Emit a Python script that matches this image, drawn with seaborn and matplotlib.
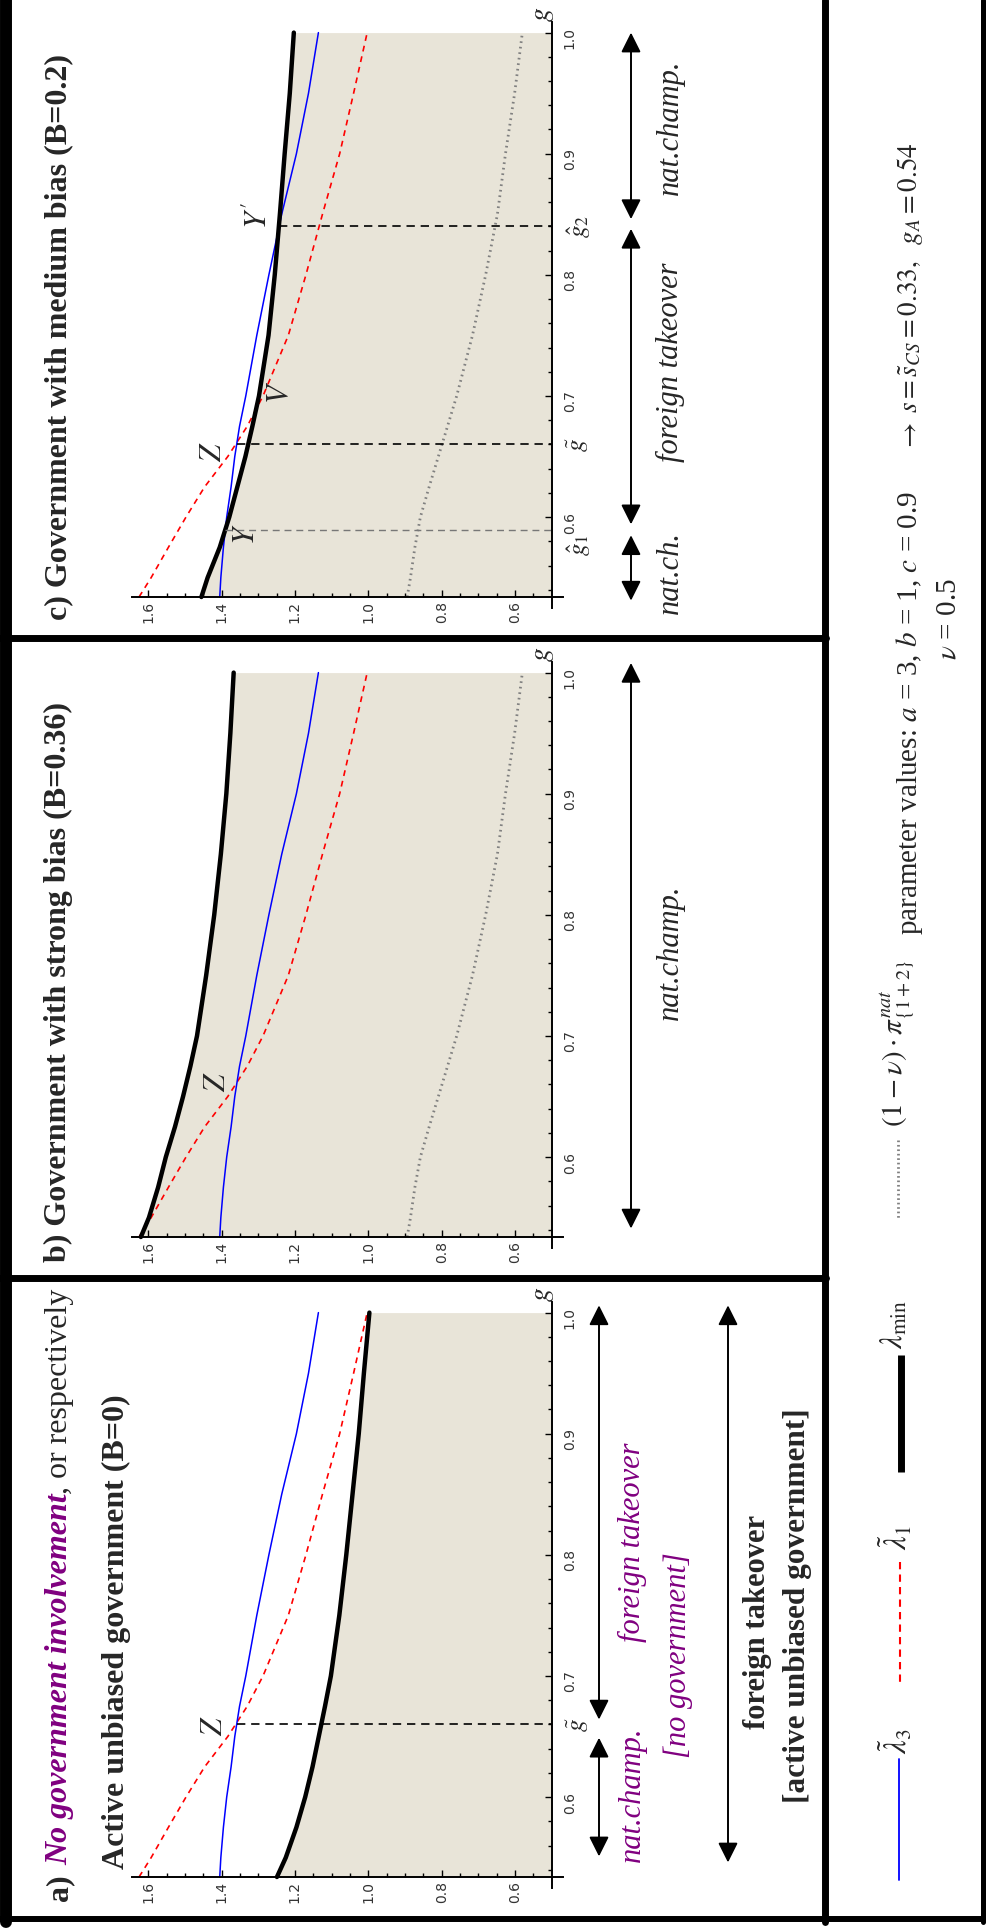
import numpy as np
import matplotlib
matplotlib.use('Agg')
import matplotlib.pyplot as plt
import seaborn as sns
from matplotlib import font_manager
from matplotlib.lines import Line2D

# values: g runs up the page, lambda runs right-to-left
G = [0.534, 0.55, 0.575, 0.6, 0.625, 0.65, 0.675, 0.7, 0.75, 0.8, 0.85, 0.9, 0.95, 1.0]
LAM3 = [1.405, 1.402, 1.395, 1.386, 1.374, 1.364, 1.351, 1.334, 1.304, 1.271, 1.236, 1.196, 1.163, 1.136]
LAM1 = [1.625, 1.592, 1.545, 1.497, 1.446, 1.383, 1.330, 1.287, 1.218, 1.170, 1.125, 1.078, 1.040, 1.003]
LMIN_A = [1.249, 1.225, 1.196, 1.172, 1.152, 1.135, 1.118, 1.102, 1.079, 1.060, 1.043, 1.026, 1.012, 0.997]
LMIN_B = [1.620, 1.598, 1.573, 1.552, 1.527, 1.505, 1.485, 1.467, 1.442, 1.420, 1.402, 1.387, 1.376, 1.367]
LMIN_C = [1.455, 1.438, 1.405, 1.379, 1.357, 1.335, 1.316, 1.298, 1.272, 1.255, 1.241, 1.228, 1.214, 1.203]
PI_NAT = [0.894, 0.885, 0.873, 0.858, 0.834, 0.809, 0.784, 0.759, 0.716, 0.680, 0.648, 0.626, 0.601, 0.580]

G_TILDE = 0.66
G_HAT1 = 0.589
G_HAT2 = 0.84

LAM_TICKS = [0.6, 0.8, 1.0, 1.2, 1.4, 1.6]
G_TICKS = [0.6, 0.7, 0.8, 0.9, 1.0]

PURPLE = '#800080'
BEIGE = '#E8E4D8'

W, H = 986, 1932

sns.set_theme(style='white')
plt.rcParams['font.family'] = ['Liberation Serif', 'DejaVu Serif']
plt.rcParams['mathtext.fontset'] = 'stix'

names = {f.name for f in font_manager.fontManager.ttflist}
if 'Liberation Sans Narrow' in names:
    TICK_FAM, TICK_SIZE = 'Liberation Sans Narrow', 13.5
else:
    TICK_FAM, TICK_SIZE = 'DejaVu Sans', 10

fig = plt.figure(figsize=(W / 100, H / 100), dpi=100)
renderer = fig.canvas.get_renderer()


def fpt(x, y):
    return x / W, 1 - y / H


def ftext(x, y, s, **kw):
    kw.setdefault('ha', 'left')
    kw.setdefault('va', 'center')
    return fig.text(*fpt(x, y), s, rotation=90, rotation_mode='anchor', **kw)


def chain(x, y0, pieces):
    # rotated title made of several styled pieces, stacked bottom to top
    y = y0
    for s, gap, kw in pieces:
        t = ftext(x, y, s, va='baseline', **kw)
        bb = t.get_window_extent(renderer)
        y = H - bb.y1 - gap


def fline(x0, y0, x1, y1, lw, **kw):
    fig.add_artist(Line2D([x0 / W, x1 / W], [1 - y0 / H, 1 - y1 / H],
                          transform=fig.transFigure, lw=lw, **kw))


# axes geometry in pixels
AX_L, AX_W, AX_H, AX_TOP = 131.7, 431.0, 586.2, 21.7


def xf(px):
    return (px - AX_L) / AX_W


def make_axes(T, lmin, show_pi):
    ax = fig.add_axes([AX_L / W, 1 - (T + AX_TOP + AX_H) / H, AX_W / W, AX_H / H])
    ax.patch.set_alpha(0)
    ax.fill_betweenx(G, lmin, 0.5, color=BEIGE, lw=0, zorder=0)
    if show_pi:
        sns.lineplot(x=PI_NAT, y=G, ax=ax, orient='y', sort=False, estimator=None,
                     color='#808080', lw=2.0, linestyle=(0, (0.6, 1.4)), legend=False, zorder=2)
    sns.lineplot(x=LAM1, y=G, ax=ax, orient='y', sort=False, estimator=None,
                 color='#ff0000', lw=1.2, linestyle=(0, (3.5, 3)), legend=False, zorder=3)
    sns.lineplot(x=LAM3, y=G, ax=ax, orient='y', sort=False, estimator=None,
                 color='#0000ff', lw=1.1, legend=False, zorder=3)
    sns.lineplot(x=lmin, y=G, ax=ax, orient='y', sort=False, estimator=None,
                 color='black', lw=3.2, legend=False, zorder=4)

    ax.set_xlim(1.645, 0.47)
    ax.set_ylim(0.525, 1.009)
    ax.set_xlabel('')
    ax.set_ylabel('')
    for s in ['top', 'left']:
        ax.spines[s].set_visible(False)
    ax.spines['right'].set_position(('data', 0.5))
    ax.spines['bottom'].set_position(('data', 0.534))
    for s in ['right', 'bottom']:
        ax.spines[s].set_linewidth(1.4)
        ax.spines[s].set_color('black')
        ax.spines[s].set_zorder(6)
    ax.xaxis.set_ticks_position('bottom')
    ax.yaxis.set_ticks_position('right')
    ax.set_xticks(LAM_TICKS)
    ax.set_xticklabels([f'{v:.1f}' for v in LAM_TICKS])
    ax.set_xticks(np.arange(0.55, 1.62, 0.05), minor=True)
    ax.set_yticks(G_TICKS)
    ax.set_yticklabels([f'{v:.1f}' for v in G_TICKS])
    ax.set_yticks(np.arange(0.54, 1.005, 0.02), minor=True)
    ax.tick_params(which='both', direction='in', color='black', width=1.0)
    ax.tick_params(which='major', length=5)
    ax.tick_params(which='minor', length=3)
    ax.tick_params(axis='both', labelsize=TICK_SIZE, labelcolor='#333333',
                   labelfontfamily=TICK_FAM)
    ax.tick_params(axis='x', labelrotation=90, pad=3)
    ax.tick_params(axis='y', labelrotation=90, pad=8)
    ax.grid(False)
    ax.text(xf(543), 1.0, '$g$', transform=ax.transAxes, fontsize=20,
            rotation=90, rotation_mode='anchor', ha='left', va='center', clip_on=False)
    return ax


def mark(ax, g, curve, color='black', lw=1.2):
    lam0 = np.interp(g, G, curve)
    ax.plot([lam0, 0.5], [g, g], color=color, lw=lw, linestyle=(0, (5, 3.5)), zorder=5)


def gtick(ax, g, s):
    ax.text(xf(565), g, s, transform=ax.get_yaxis_transform(), fontsize=18,
            rotation=90, rotation_mode='anchor', ha='center', va='top', clip_on=False)


def point_label(ax, lam, g, s):
    ax.text(lam, g, s, fontsize=22, rotation=90, rotation_mode='anchor',
            ha='center', va='center', zorder=7)


def arrow(ax, px, g0, g1):
    tr = ax.get_yaxis_transform()
    ax.annotate('', xy=(xf(px), g1), xytext=(xf(px), g0), xycoords=tr, textcoords=tr,
                annotation_clip=False,
                arrowprops=dict(arrowstyle='<|-|>,head_length=0.6,head_width=0.3',
                                lw=1.4, color='black', mutation_scale=20,
                                shrinkA=0, shrinkB=0))


def side_label(ax, px, g, s, **kw):
    ax.text(xf(px), g, s, transform=ax.get_yaxis_transform(), rotation=90,
            rotation_mode='anchor', ha='center', va='center', clip_on=False, **kw)


# ---- panel a (bottom)
ax_a = make_axes(1280, LMIN_A, False)
mark(ax_a, G_TILDE, LAM3)
point_label(ax_a, 1.419, 0.659, '$Z$')
gtick(ax_a, G_TILDE, r'$\tilde{g}$')
arrow(ax_a, 599, 0.551, 0.649)
arrow(ax_a, 599, 0.664, 1.006)
arrow(ax_a, 728, 0.546, 1.006)
side_label(ax_a, 632, 0.602, 'nat.champ.', fontsize=22, style='italic', color=PURPLE)
side_label(ax_a, 632, 0.810, 'foreign takeover', fontsize=22, style='italic', color=PURPLE)
side_label(ax_a, 678, 0.717, '[no government]', fontsize=22, style='italic', color=PURPLE)
side_label(ax_a, 758, 0.745, 'foreign takeover', fontsize=22, weight='bold')
side_label(ax_a, 798, 0.758, '[active unbiased government]', fontsize=22.5, weight='bold')

chain(67, 1901, [('a)', 9, dict(fontsize=23, weight='bold')),
                 ('No government involvement', 0, dict(fontsize=23, weight='bold',
                                                       style='italic', color=PURPLE)),
                 (', or respectively', 0, dict(fontsize=23))])
ftext(124, 1868.6, 'Active unbiased government (B=0)', va='baseline', fontsize=23, weight='bold')

# ---- panel b (middle)
ax_b = make_axes(640, LMIN_B, True)
point_label(ax_b, 1.412, 0.662, '$Z$')
arrow(ax_b, 631, 0.541, 1.008)
side_label(ax_b, 670, 0.769, 'nat.champ.', fontsize=22, style='italic')
ftext(66, 1262, 'b) Government with strong bias (B=0.36)', va='baseline', fontsize=23, weight='bold')

# ---- panel c (top)
ax_c = make_axes(0, LMIN_C, True)
mark(ax_c, G_TILDE, LAM3)
mark(ax_c, G_HAT2, LMIN_C)
mark(ax_c, G_HAT1, LMIN_C, color='#777777', lw=1.0)
point_label(ax_c, 1.423, 0.654, '$Z$')
point_label(ax_c, 1.240, 0.703, '$V$')
point_label(ax_c, 1.332, 0.586, '$Y$')
point_label(ax_c, 1.297, 0.849, "$Y'$")
gtick(ax_c, G_TILDE, r'$\tilde{g}$')
gtick(ax_c, G_HAT1 - 0.012, r'$\hat{g}_1$')
gtick(ax_c, G_HAT2, r'$\hat{g}_2$')
arrow(ax_c, 631, 0.531, 0.585)
arrow(ax_c, 631, 0.594, 0.838)
arrow(ax_c, 631, 0.846, 1.0)
side_label(ax_c, 670, 0.554, 'nat.ch.', fontsize=22, style='italic')
side_label(ax_c, 670, 0.728, 'foreign takeover', fontsize=22, style='italic')
side_label(ax_c, 670, 0.922, 'nat.champ.', fontsize=22, style='italic')
ftext(66, 620, 'c) Government with medium bias (B=0.2)', va='baseline', fontsize=23, weight='bold')

# ---- legend strip on the right
fline(899, 1759, 899, 1880, 1.3, color='#0000ff')
ftext(896, 1754, r'$\tilde{\lambda}_3$', fontsize=22)
fline(900, 1562, 900, 1682, 1.5, color='#ff0000', linestyle=(0, (3.5, 2.5)))
ftext(896, 1550, r'$\tilde{\lambda}_1$', fontsize=22)
fline(900.5, 1355, 900.5, 1472, 5.0, color='black', solid_capstyle='butt')
ftext(895, 1349, r'$\lambda_{\min}$', fontsize=22)
fline(898, 1140, 898, 1220, 2.0, color='#808080', linestyle=(0, (0.6, 1.0)))
ftext(897, 1127, r'$(1-\nu)\cdot\pi^{nat}_{\{1+2\}}$', fontsize=21)
ftext(917, 935, 'parameter values: $a$ = 3, $b$ = 1, $c$ = 0.9', va='baseline', fontsize=21)
ftext(917, 437, r'$\rightarrow$', ha='center', va='baseline', fontsize=20)
ftext(917, 413, r'$s=\tilde{s}_{CS}=0.33,\ \ g_A=0.54$', va='baseline', fontsize=19.5)
ftext(956, 660, r'$\nu$ = 0.5', va='baseline', fontsize=21)

# ---- frame lines
fline(6, 0, 6, 1922, 8.6, color='black')
fline(0, 1919, 986, 1919, 4.3, color='black')
fline(0, 638, 826, 638, 5.0, color='black')
fline(0, 1278, 826, 1278, 5.0, color='black')
fline(825, 0, 825, 1922, 5.0, color='black')
fline(983, 0, 983, 1922, 3.6, color='black')

fig.savefig('out.png', dpi=100)
